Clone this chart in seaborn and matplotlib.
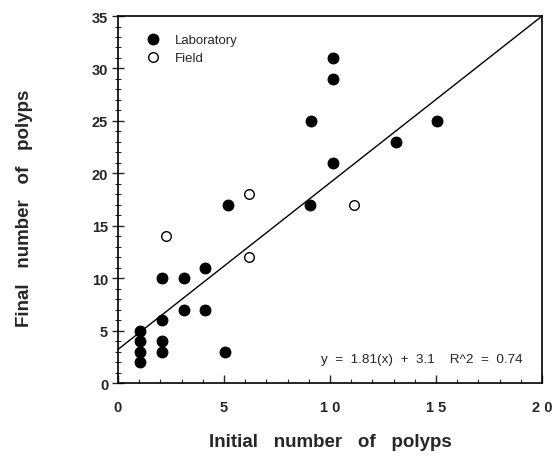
import numpy as np
import pandas as pd
import matplotlib
matplotlib.use("Agg")
import matplotlib.pyplot as plt
import seaborn as sns

# Laboratory colonies (filled circles)
lab_initial = [1.05, 1.05, 1.05, 1.05, 2.1, 2.1, 2.1, 2.1, 3.1, 3.1, 4.1, 4.1,
               5.05, 5.2, 9.05, 9.1, 10.15, 10.15, 10.15, 13.1, 15.05]
lab_final = [2, 3, 4, 5, 3, 4, 6, 10, 7, 10, 7, 11,
             3, 17, 17, 25, 21, 29, 31, 23, 25]

# Field colonies (open circles)
field_initial = [2.25, 6.2, 6.2, 11.15]
field_final = [14, 18, 12, 17]

# fitted line as drawn in the figure
fit_x = [0, 20]
fit_y = [3.2, 35]

x_ticks = [0, 5, 10, 15, 20]
x_tick_labels = ["0", "5", "1 0", "1 5", "2 0"]
y_ticks = [0, 5, 10, 15, 20, 25, 30, 35]

lab = pd.DataFrame({"initial": lab_initial, "final": lab_final})
field = pd.DataFrame({"initial": field_initial, "final": field_final})

sns.set_style("ticks")
plt.rcParams["font.family"] = ["Liberation Sans", "DejaVu Sans"]

fig = plt.figure(figsize=(5.56, 4.6), dpi=100)
ax = fig.add_axes([0.212, 0.165, 0.763, 0.798])

sns.lineplot(x=fit_x, y=fit_y, ax=ax, color="black", lw=1.0)
sns.scatterplot(data=lab, x="initial", y="final", ax=ax, color="black",
                s=60, edgecolor="black", linewidth=0.8, label="Laboratory", zorder=3)
sns.scatterplot(data=field, x="initial", y="final", ax=ax, facecolor="white",
                s=48, edgecolor="black", linewidth=1.0, label="Field", zorder=3)

ax.set_xlim(0, 20)
ax.set_ylim(0, 35)
ax.set_xticks(x_ticks)
ax.set_xticklabels(x_tick_labels)
ax.set_yticks(y_ticks)
ax.set_xticks(np.arange(0, 21, 1), minor=True)
ax.set_yticks(np.arange(0, 36, 1), minor=True)

for side in ["top", "right", "bottom", "left"]:
    ax.spines[side].set_visible(True)
    ax.spines[side].set_linewidth(1.2)
    ax.spines[side].set_color("black")

ax.tick_params(axis="x", which="major", direction="in", length=6, width=1.0,
               labelsize=10.5, pad=12)
ax.tick_params(axis="x", which="minor", direction="in", length=3, width=0.8)
ax.tick_params(axis="y", which="major", direction="inout", length=8, width=1.0,
               labelsize=10.5, pad=3)
ax.tick_params(axis="y", which="minor", direction="inout", length=4, width=0.8)
for lbl in ax.get_xticklabels() + ax.get_yticklabels():
    lbl.set_fontweight("bold")

ax.set_xlabel("Initial   number   of   polyps", fontsize=13.5, fontweight="bold", labelpad=14)
ax.set_ylabel("Final   number   of   polyps", fontsize=13.5, fontweight="bold", labelpad=42)
# the y label sits a little below the centre of the axis
ax.yaxis.label.set_y(0.48)

ax.text(0.955, 0.065, "y  =  1.81(x)  +  3.1    R^2  =  0.74", transform=ax.transAxes,
        ha="right", va="center", fontsize=9.7)

leg = ax.legend(loc="upper left", bbox_to_anchor=(0.039, 0.967), frameon=False,
                fontsize=9.5, handletextpad=0.7, borderaxespad=0, labelspacing=0.45)

fig.savefig("out.png", dpi=100)
